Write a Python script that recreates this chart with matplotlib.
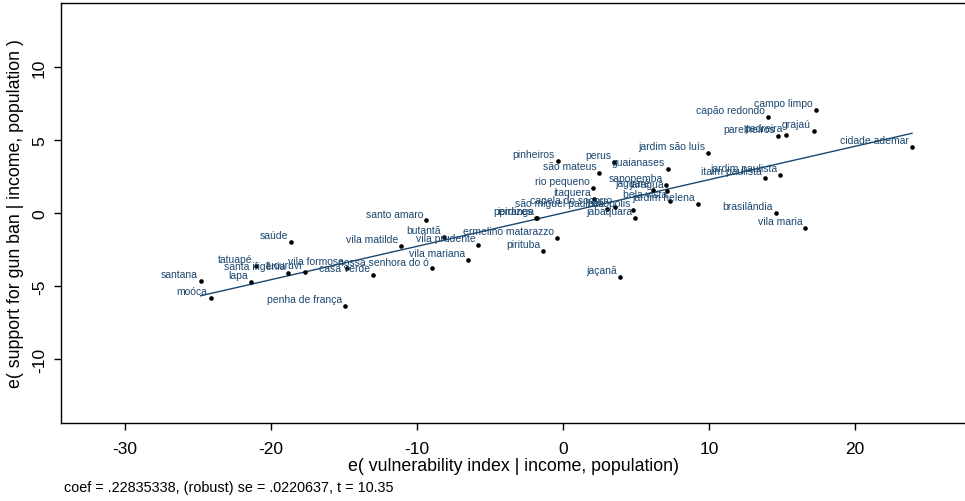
import numpy as np
import matplotlib
matplotlib.use("Agg")
from matplotlib import pyplot as plt

plt.rcParams["font.family"] = ["Liberation Sans", "DejaVu Sans"]
plt.rcParams["axes.unicode_minus"] = False

# residuals of the added-variable plot, one per district
names = ["santana", "moóca", "lapa", "tatuapé", "santa ifigênia", "tucuruvi",
         "vila formosa", "casa verde", "nossa senhora do ó", "penha de frança",
         "saúde", "vila matilde", "santo amaro", "butantã", "vila prudente",
         "vila mariana", "ermelino matarazzo", "pirituba", "ipiranga", "perdizes",
         "jaçanã", "pinheiros", "perus", "são mateus", "guaianases",
         "jardim são luís", "rio pequeno", "itaquera", "capela do socorro",
         "são miguel paulista", "heliópolis", "jabaquara", "sapopemba",
         "jaraguá", "jaguaré", "bela vista", "jardim helena", "itaim paulista",
         "jardim paulista", "brasilândia", "vila maria", "cidade ademar",
         "campo limpo", "capão redondo", "grajaú", "parelheiros", "pedreira"]
e_vuln = [-24.82, -24.13, -21.35, -21.03, -18.82, -17.65,
          -14.82, -13.01, -8.99, -14.93,
          -18.63, -11.10, -9.38, -8.13, -5.80,
          -6.49, -0.43, -1.35, -1.76, -1.88,
          3.90, -0.36, 3.51, 2.49, 7.21,
          9.95, 2.03, 2.12, 3.56,
          3.01, 4.82, 4.93, 7.03,
          7.14, 6.18, 7.33, 9.27, 13.84,
          14.86, 14.59, 16.60, 23.90,
          17.31, 14.06, 17.19, 14.75, 15.27]
e_support = [-4.68, -5.80, -4.75, -3.61, -4.13, -4.02,
             -3.79, -4.25, -3.80, -6.39,
             -1.97, -2.26, -0.51, -1.61, -2.19,
             -3.22, -1.71, -2.58, -0.36, -0.31,
             -4.38, 3.54, 3.51, 2.74, 3.01,
             4.09, 1.69, 0.96, 0.43,
             0.24, 0.23, -0.34, 1.92,
             1.54, 1.58, 0.84, 0.62, 2.40,
             2.62, 0.00, -1.01, 4.52,
             7.08, 6.55, 5.64, 5.29, 5.36]

coef = 0.22835338
se = 0.0220637
tstat = 10.35

navy = "#1a476f"

fig = plt.figure(figsize=(9.65, 5.02), dpi=100)
ax = fig.add_axes([61 / 965, 78 / 502, 1 - 61 / 965, 420 / 502])

ax.scatter(e_vuln, e_support, s=11, color="black", zorder=3, linewidths=0)
for n, x, y in zip(names, e_vuln, e_support):
    ax.annotate(n, (x, y), xytext=(-2.2, 5), textcoords="offset points",
                ha="right", va="center", fontsize=7.5, color=navy, zorder=4)

# fitted line through the residuals
xs = np.array([min(e_vuln), max(e_vuln)])
ax.plot(xs, coef * xs, color=navy, lw=1.0, zorder=2)

ax.set_xlim(-34.38, 27.53)
ax.set_ylim(-14.38, 14.38)
ax.set_xticks([-30, -20, -10, 0, 10, 20])
ax.set_yticks([-10, -5, 0, 5, 10])
ax.tick_params(direction="out", length=5, width=1, labelsize=12.5)
ax.tick_params(axis="x", pad=8)
ax.tick_params(axis="y", labelrotation=90, pad=5)
for lab in ax.get_yticklabels():
    lab.set_va("center")
ax.spines["right"].set_visible(False)
for s in ["left", "bottom", "top"]:
    ax.spines[s].set_linewidth(1.0)

ax.set_xlabel("e( vulnerability index | income, population)", fontsize=12.8,
              labelpad=1)
ax.set_ylabel("e( support for gun ban | income, population )", fontsize=12.8,
              labelpad=6)


def stata_num(v, digits):
    # stata drops the leading zero
    s = "%.*f" % (digits, v)
    return s[1:] if s.startswith("0.") else s


note = "coef = %s, (robust) se = %s, t = %s" % (
    stata_num(coef, 8), stata_num(se, 7), stata_num(tstat, 2))
fig.text(64 / 965, 1 - 488 / 502, note, fontsize=10.4, va="center", ha="left")

fig.savefig("out.png", dpi=100)
